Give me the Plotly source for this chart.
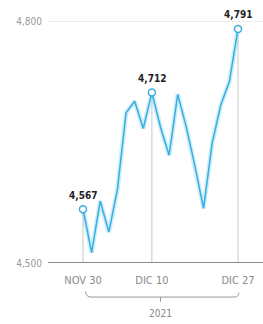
import plotly.graph_objects as go

dates = ["Nov 30", "Dic 1", "Dic 2", "Dic 3", "Dic 6", "Dic 7", "Dic 8", "Dic 9", "Dic 10",
         "Dic 13", "Dic 14", "Dic 15", "Dic 16", "Dic 17", "Dic 20", "Dic 21", "Dic 22",
         "Dic 23", "Dic 27"]
values = [4567.00, 4513.04, 4577.10, 4538.43, 4591.67, 4686.75, 4701.21, 4667.45, 4712.02,
          4668.97, 4634.09, 4709.85, 4668.67, 4620.64, 4568.02, 4649.23, 4696.56,
          4725.79, 4791.19]
highlight_idx = [0, 8, 18]
highlight_labels = ["4,567", "4,712", "4,791"]
tick_labels = ["NOV 30", "DIC 10", "DIC 27"]
y_ticks = [4500, 4800]
y_tick_labels = ["4,500", "4,800"]
year_label = "2021"

x = list(range(len(values)))
FONT = "DejaVu Sans Condensed, Roboto, sans-serif"
BLUE = "#3aaee0"

fig = go.Figure()

# vertical drop lines
for i in highlight_idx:
    fig.add_shape(type="line", x0=i, x1=i, y0=4500, y1=values[i],
                  line=dict(color="#c8c8c8", width=1), layer="below")

# glow
fig.add_trace(go.Scatter(x=x, y=values, mode="lines",
                         line=dict(color="rgba(140,215,245,0.45)", width=4.5),
                         hoverinfo="skip", showlegend=False))
fig.add_trace(go.Scatter(x=x, y=values, mode="lines",
                         line=dict(color=BLUE, width=1.5),
                         showlegend=False))
fig.add_trace(go.Scatter(x=highlight_idx, y=[values[i] for i in highlight_idx],
                         mode="markers",
                         marker=dict(size=7, color="white", line=dict(color=BLUE, width=1.5)),
                         showlegend=False))

for i, lab in zip(highlight_idx, highlight_labels):
    fig.add_annotation(x=i, y=values[i], text="<b>" + lab + "</b>", showarrow=False,
                       yshift=14, font=dict(family=FONT, size=10, color="#222"))

# baseline
fig.add_shape(type="line", xref="paper", x0=0, x1=1, y0=4500, y1=4500,
              line=dict(color="#666", width=1.5))

# year bracket
fig.add_shape(type="path", xref="x", yref="paper",
              path="M 0.3,-0.11 Q 0.3,-0.132 1.0,-0.132 L 17.6,-0.132 Q 18.1,-0.132 18.1,-0.115",
              line=dict(color="#999", width=1))
fig.add_shape(type="line", xref="x", yref="paper", x0=9.0, x1=9.0, y0=-0.132, y1=-0.15,
              line=dict(color="#999", width=1))
fig.add_annotation(x=9.0, xref="x", y=-0.194, yref="paper", text=year_label, showarrow=False,
                   yanchor="middle", font=dict(family=FONT, size=10, color="#888"))

fig.update_layout(
    width=263, height=324,
    margin=dict(l=48, r=0, t=5, b=61),
    paper_bgcolor="white", plot_bgcolor="white",
    xaxis=dict(range=[-4.065, 20.903], tickvals=highlight_idx, ticktext=tick_labels,
               showgrid=False, zeroline=False, showline=False, ticks="",
               ticklabelstandoff=9,
               tickfont=dict(family=FONT, size=11, color="#8a8a8a")),
    yaxis=dict(range=[4500, 4821], tickvals=y_ticks, ticktext=y_tick_labels,
               showgrid=True, gridcolor="#ececec", gridwidth=1, zeroline=False,
               showline=False, ticks="", ticklabelstandoff=5,
               tickfont=dict(family=FONT, size=10, color="#9a9a9a")),
)

fig.write_html("out.html", config={"displayModeBar": False},
               post_script="document.body.style.margin='0';")
